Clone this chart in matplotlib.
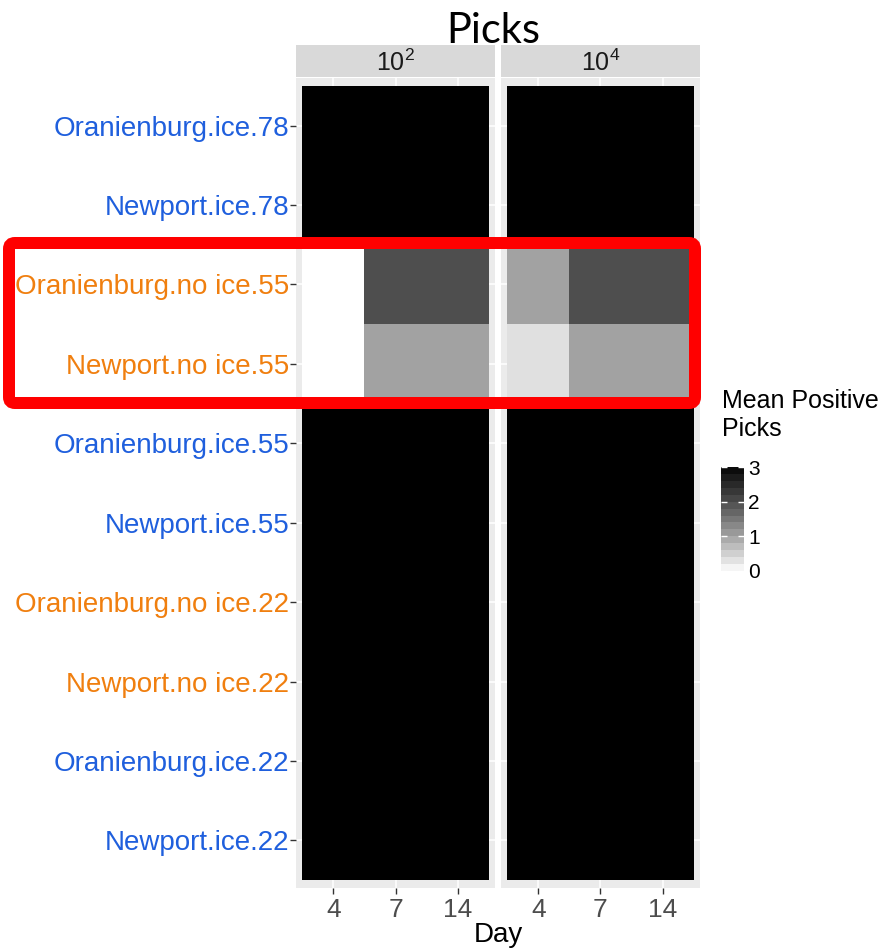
import numpy as np
import matplotlib
matplotlib.use("Agg")
import matplotlib.pyplot as plt
from matplotlib.colors import ListedColormap, Normalize
from matplotlib.patches import FancyBboxPatch

plt.rcParams["font.family"] = ["Liberation Sans", "DejaVu Sans"]
plt.rcParams["mathtext.fontset"] = "custom"
plt.rcParams["mathtext.rm"] = "Lato"
plt.rcParams["mathtext.it"] = "Lato:italic"

# ---- data -------------------------------------------------------------
samples = [
    "Oranienburg.ice.78",
    "Newport.ice.78",
    "Oranienburg.no ice.55",
    "Newport.no ice.55",
    "Oranienburg.ice.55",
    "Newport.ice.55",
    "Oranienburg.no ice.22",
    "Newport.no ice.22",
    "Oranienburg.ice.22",
    "Newport.ice.22",
]
days = ["4", "7", "14"]
doses = [r"$\mathregular{10^{2}}$", r"$\mathregular{10^{4}}$"]

# mean positive picks, rows follow `samples`, columns follow `days`
picks_1e2 = [
    [3, 3, 3],
    [3, 3, 3],
    [0, 2, 2],
    [0, 1, 1],
    [3, 3, 3],
    [3, 3, 3],
    [3, 3, 3],
    [3, 3, 3],
    [3, 3, 3],
    [3, 3, 3],
]
picks_1e4 = [
    [3, 3, 3],
    [3, 3, 3],
    [1, 2, 2],
    [1 / 3, 1, 1],
    [3, 3, 3],
    [3, 3, 3],
    [3, 3, 3],
    [3, 3, 3],
    [3, 3, 3],
    [3, 3, 3],
]
fill_limits = (0, 3)
legend_ticks = [0, 1, 2, 3]

ICE_COLOR = "#1f5fdd"
NOICE_COLOR = "#f07f0f"


# ---- white -> black gradient interpolated in CIE Lab (lightness) ------
def lab_gray(L):
    fy = (L + 16.0) / 116.0
    Y = fy ** 3 if fy ** 3 > 0.008856 else L / 903.3
    c = 12.92 * Y if Y <= 0.0031308 else 1.055 * Y ** (1 / 2.4) - 0.055
    c = min(max(c, 0.0), 1.0)
    return (c, c, c)


cmap = ListedColormap([lab_gray(100.0 * (1 - t)) for t in np.linspace(0, 1, 512)])
norm = Normalize(*fill_limits)

# ---- layout in pixels -------------------------------------------------
W, H = 885, 952
fig = plt.figure(figsize=(W / 100, H / 100), dpi=100)


def axes_px(left, top, right, bottom, **kw):
    return fig.add_axes([left / W, 1 - bottom / H, (right - left) / W, (bottom - top) / H], **kw)


panel_top, panel_bottom = 78, 888
panels = [(296, 495), (501, 700)]
strip_top = 45

for k, (dose, data) in enumerate(zip(doses, [picks_1e2, picks_1e4])):
    l, r = panels[k]
    ax = axes_px(l, panel_top, r, panel_bottom)
    ax.set_facecolor("#ebebeb")
    vals = np.array(data, dtype=float)
    ax.pcolormesh(np.arange(len(days) + 1) - 0.5,
                  np.arange(len(samples) + 1) - 0.5,
                  vals, cmap=cmap, norm=norm, zorder=2)
    ax.set_xlim(-0.6, len(days) - 0.4)
    ax.set_ylim(len(samples) - 0.4, -0.6)
    ax.set_xticks(range(len(days)))
    ax.set_xticklabels(days)
    ax.set_yticks(range(len(samples)))
    ax.grid(True, color="white", linewidth=1.1, zorder=0)
    ax.set_axisbelow(True)
    for s in ax.spines.values():
        s.set_visible(False)
    ax.tick_params(axis="x", length=4, width=1, color="#333333",
                   labelsize=19, labelcolor="#4d4d4d", pad=3)
    if k == 0:
        ax.set_yticklabels(samples)
        ax.tick_params(axis="y", length=4, width=1, color="#333333",
                       labelsize=20, pad=1)
        for lab, name in zip(ax.get_yticklabels(), samples):
            lab.set_color(NOICE_COLOR if "no ice" in name else ICE_COLOR)
    else:
        ax.tick_params(axis="y", length=0, labelleft=False)

    # facet strip
    sax = axes_px(l, strip_top, r, panel_top - 1)
    sax.set_facecolor("#d9d9d9")
    sax.set_xticks([])
    sax.set_yticks([])
    for s in sax.spines.values():
        s.set_visible(False)
    sax.text(0.5, 0.45, dose, ha="center", va="center", fontsize=18,
             color="#1a1a1a", transform=sax.transAxes)

# titles
fig.text(493 / W, 1 - 43 / H, "Picks", ha="center", va="baseline",
         fontsize=30, family=["Lato", "DejaVu Sans"])
fig.text(498 / W, 1 - 935 / H, "Day", ha="center", va="center", fontsize=20)

# ---- legend: stepped colour bar ----------------------------------------
fig.text(722 / W, 1 - 389 / H, "Mean Positive\nPicks", ha="left", va="top",
         fontsize=18, linespacing=1.2)
cax = axes_px(721, 467, 744, 571)
nbin = 15
edges = np.linspace(fill_limits[0], fill_limits[1], nbin + 1)
centers = (edges[:-1] + edges[1:]) / 2
cax.pcolormesh([0, 1], edges, centers[:, None], cmap=cmap, norm=norm)
cax.set_xlim(0, 1)
cax.set_ylim(*fill_limits)
cax.set_xticks([])
cax.set_yticks(legend_ticks)
cax.set_yticklabels([str(t) for t in legend_ticks])
cax.yaxis.tick_right()
cax.tick_params(axis="y", direction="in", length=4, width=1, color="white",
                left=True, right=True, labelleft=False, labelright=True,
                labelsize=15, labelcolor="black", pad=3)
for s in cax.spines.values():
    s.set_visible(False)

# ---- highlight box around the no-ice 55 rows ------------------------------
ov = fig.add_axes([0, 0, 1, 1], zorder=10)
ov.set_xlim(0, W)
ov.set_ylim(H, 0)
ov.axis("off")
ov.patch.set_alpha(0)
ov.add_patch(FancyBboxPatch((9, 243), 686, 160,
                            boxstyle="round,pad=0,rounding_size=6",
                            fill=False, edgecolor="#ff0000",
                            linewidth=12 * 72 / 100))

fig.savefig("out.png", dpi=100)
